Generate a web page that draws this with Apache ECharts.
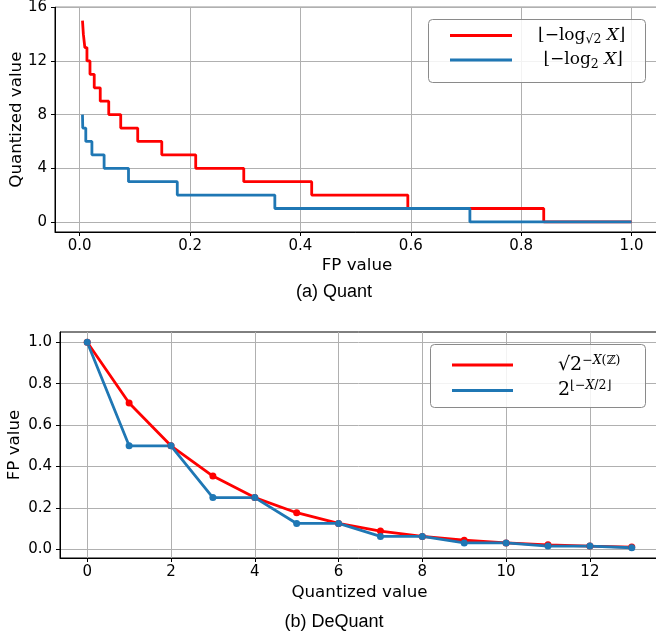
<!DOCTYPE html>
<html>
<head>
<meta charset="utf-8">
<script src="https://cdn.jsdelivr.net/npm/echarts@6/dist/echarts.min.js"></script>
<style>html,body{margin:0;padding:0;background:#fff;}#c{width:656px;height:639px;}</style>
</head>
<body>
<div id="c"></div>
<script>
// (a) Quant: step start positions (FP value) and quantized levels
var quantRedX = [0.005, 0.0066, 0.0093, 0.0131, 0.0186, 0.0263, 0.0372, 0.0526, 0.0743, 0.1051, 0.1487, 0.2102, 0.2973, 0.4204, 0.5946, 0.8409, 1.0];
var quantRedY = [15, 14, 13, 12, 11, 10, 9, 8, 7, 6, 5, 4, 3, 2, 1, 0, 0];
var quantBlueX = [0.005, 0.0055, 0.0110, 0.0221, 0.0442, 0.0884, 0.1768, 0.3536, 0.7071, 1.0];
var quantBlueY = [8, 7, 6, 5, 4, 3, 2, 1, 0, 0];
var quantXTicks = [0, 0.2, 0.4, 0.6, 0.8, 1.0];
var quantYTicks = [0, 4, 8, 12, 16];

// (b) DeQuant
var deqX = [0, 1, 2, 3, 4, 5, 6, 7, 8, 9, 10, 11, 12, 13];
var deqRed = [1, 0.707, 0.5, 0.354, 0.25, 0.177, 0.125, 0.088, 0.0625, 0.044, 0.031, 0.022, 0.0156, 0.011];
var deqBlue = [1, 0.5, 0.5, 0.25, 0.25, 0.125, 0.125, 0.0625, 0.0625, 0.031, 0.031, 0.0156, 0.0156, 0.0078];
var deqXTicks = [0, 2, 4, 6, 8, 10, 12];
var deqYTicks = [0, 0.2, 0.4, 0.6, 0.8, 1.0];

var RED = '#ff0000', BLUE = '#1f77b4';
var tickFont = {fontFamily: 'DejaVu Sans', fontSize: 15, color: '#000'};
var nameFont = {fontFamily: 'DejaVu Sans', fontSize: 16.7, color: '#000'};
var gridLine = {show: true, lineStyle: {color: '#b0b0b0', width: 1}};
var axLine = {show: true, onZero: false, lineStyle: {color: '#000', width: 1}};

function pairs(xs, ys) { return xs.map(function (x, i) { return [x, ys[i]]; }); }

var chart = echarts.init(document.getElementById('c'), null, {renderer: 'canvas'});

var mathRich = {
  sp1: {width: 21},
  sp2: {width: 40},
  n: {fontFamily: 'DejaVu Serif', fontSize: 17, color: '#000', lineHeight: 22},
  i: {fontFamily: 'DejaVu Serif', fontStyle: 'italic', fontSize: 17, color: '#000', lineHeight: 22},
  s: {fontFamily: 'DejaVu Serif', fontSize: 12.5, color: '#000', verticalAlign: 'bottom', lineHeight: 22},
  sup: {fontFamily: 'DejaVu Serif', fontStyle: 'italic', fontSize: 12.5, color: '#000', verticalAlign: 'top', lineHeight: 22},
  supn: {fontFamily: 'DejaVu Serif', fontSize: 12.5, color: '#000', verticalAlign: 'top', lineHeight: 22},
  big: {fontFamily: 'DejaVu Serif', fontSize: 19, color: '#000', lineHeight: 22}
};

var labels = {
  'qRed': '{sp1|}{n|⌊−log}{s|√2}{n| }{i|X}{n|⌋}',
  'qBlue': '{sp1|}{n| ⌊−log}{s|2}{n| }{i|X}{n|⌋}',
  'dRed': '{sp2|}{big|√2}{supn|−}{sup|X}{supn|(ℤ)}',
  'dBlue': '{sp2|}{big|2}{supn|⌊−}{sup|X}{supn|/2⌋}'
};

var option = {
  animation: false,
  backgroundColor: '#fff',
  grid: [
    {left: 55, top: 7.3, right: -3, bottom: 407, show: true, borderColor: '#000', borderWidth: 1, containLabel: false, outerBoundsMode: 'none'},
    {left: 60, top: 332, right: -3, bottom: 81, show: true, borderColor: '#000', borderWidth: 1, containLabel: false, outerBoundsMode: 'none'}
  ],
  xAxis: [
    {type: 'value', gridIndex: 0, min: -0.0448, max: 1.0498,
     name: 'FP value', nameLocation: 'middle', nameGap: 25, nameMoveOverlap: false, nameTextStyle: nameFont,
     axisLine: axLine, axisTick: {show: true, length: 4, lineStyle: {color: '#000'}, customValues: quantXTicks},
     axisLabel: Object.assign({margin: 7, customValues: quantXTicks, formatter: function (v) { return v.toFixed(1); }}, tickFont),
     splitLine: gridLine},
    {type: 'value', gridIndex: 1, min: -0.65, max: 13.65,
     name: 'Quantized value', nameLocation: 'middle', nameGap: 26, nameMoveOverlap: false, nameTextStyle: nameFont,
     axisLine: axLine, axisTick: {show: true, length: 4, lineStyle: {color: '#000'}, customValues: deqXTicks},
     axisLabel: Object.assign({margin: 7, customValues: deqXTicks, formatter: function (v) { return String(v); }}, tickFont),
     splitLine: gridLine}
  ],
  yAxis: [
    {type: 'value', gridIndex: 0, min: -0.75, max: 16,
     name: 'Quantized value', nameLocation: 'middle', nameGap: 30, nameMoveOverlap: false, nameTextStyle: nameFont,
     axisLine: axLine, axisTick: {show: true, length: 4, lineStyle: {color: '#000'}, customValues: quantYTicks},
     axisLabel: Object.assign({margin: 8, customValues: quantYTicks, formatter: function (v) { return String(v); }}, tickFont),
     splitLine: gridLine},
    {type: 'value', gridIndex: 1, min: -0.0418, max: 1.0496,
     name: 'FP value', nameLocation: 'middle', nameGap: 37, nameMoveOverlap: false, nameTextStyle: nameFont,
     axisLine: axLine, axisTick: {show: true, length: 4, lineStyle: {color: '#000'}, customValues: deqYTicks},
     axisLabel: Object.assign({margin: 8, customValues: deqYTicks, formatter: function (v) { return v.toFixed(1); }}, tickFont),
     splitLine: gridLine}
  ],
  legend: [
    {orient: 'vertical', left: 450, top: 27, padding: 0, itemGap: 5, itemWidth: 62, itemHeight: 3, icon: 'rect',
     data: ['qRed', 'qBlue'], formatter: function (n) { return labels[n]; }, textStyle: {rich: mathRich}, z: 10},
    {orient: 'vertical', left: 452, top: 354, padding: 0, itemGap: 5, itemWidth: 61, itemHeight: 3, icon: 'rect',
     data: ['dRed', 'dBlue'], formatter: function (n) { return labels[n]; }, textStyle: {rich: mathRich}, z: 10}
  ],
  graphic: [
    {type: 'rect', shape: {x: 428.5, y: 19.5, width: 217, height: 63, r: 4}, style: {fill: 'rgba(255,255,255,0.85)', stroke: '#8a8a8a', lineWidth: 1}, z: 5},
    {type: 'rect', shape: {x: 430.5, y: 344.5, width: 215, height: 63, r: 4}, style: {fill: 'rgba(255,255,255,0.85)', stroke: '#8a8a8a', lineWidth: 1}, z: 5},
    {type: 'text', x: 334, y: 292, style: {text: '(a) Quant', fontFamily: 'Liberation Sans', fontSize: 18, fill: '#000', textAlign: 'center', textVerticalAlign: 'middle'}},
    {type: 'text', x: 334, y: 622, style: {text: '(b) DeQuant', fontFamily: 'Liberation Sans', fontSize: 18, fill: '#000', textAlign: 'center', textVerticalAlign: 'middle'}}
  ],
  series: [
    {name: 'qRed', type: 'line', xAxisIndex: 0, yAxisIndex: 0, step: 'end', showSymbol: false, symbol: 'none',
     data: pairs(quantRedX, quantRedY), lineStyle: {color: RED, width: 2.8}, itemStyle: {color: RED}},
    {name: 'qBlue', type: 'line', xAxisIndex: 0, yAxisIndex: 0, step: 'end', showSymbol: false, symbol: 'none',
     data: pairs(quantBlueX, quantBlueY), lineStyle: {color: BLUE, width: 2.8}, itemStyle: {color: BLUE}},
    {name: 'dRed', type: 'line', xAxisIndex: 1, yAxisIndex: 1, symbol: 'circle', symbolSize: 7,
     data: pairs(deqX, deqRed), lineStyle: {color: RED, width: 2.8}, itemStyle: {color: RED}},
    {name: 'dBlue', type: 'line', xAxisIndex: 1, yAxisIndex: 1, symbol: 'circle', symbolSize: 7,
     data: pairs(deqX, deqBlue), lineStyle: {color: BLUE, width: 2.8}, itemStyle: {color: BLUE}}
  ]
};
chart.setOption(option);
</script>
</body>
</html>
